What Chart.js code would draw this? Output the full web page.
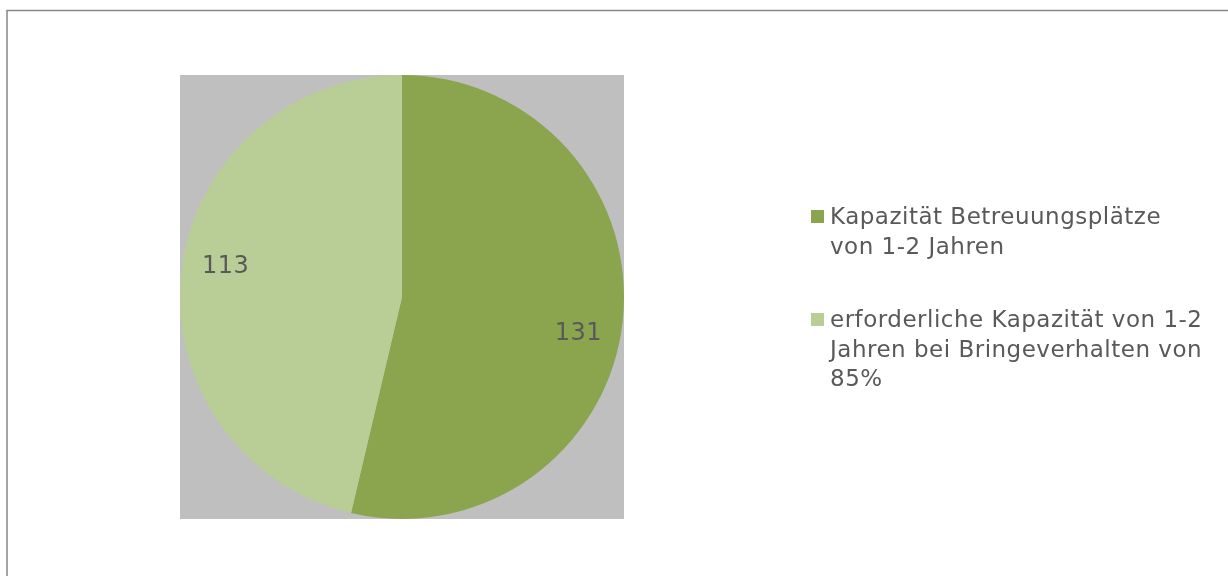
<!DOCTYPE html>
<html>
<head>
<meta charset="utf-8">
<script src="https://cdn.jsdelivr.net/npm/chart.js@4"></script>
<style>
html,body{margin:0;padding:0;background:#fff;}
#wrap{position:relative;width:1228px;height:576px;}
canvas{display:block;}
</style>
</head>
<body>
<div id="wrap"><canvas id="c" width="1228" height="576"></canvas></div>
<script>
const categories = [
  ["Kapazität Betreuungsplätze", "von 1-2 Jahren"],
  ["erforderliche Kapazität von 1-2", "Jahren bei Bringeverhalten von", "85%"]
];
const values = [131, 113];
const colors = ["#8AA54E", "#B9CE96"];

const FONT = '"DejaVu Sans", Verdana, sans-serif';
const TEXT = '#595959';

const decor = {
  id: 'decor',
  beforeDraw(chart) {
    const ctx = chart.ctx, a = chart.chartArea;
    ctx.save();
    ctx.fillStyle = '#fff';
    ctx.fillRect(0, 0, chart.width, chart.height);
    ctx.strokeStyle = '#868686';
    ctx.lineWidth = 1.5;
    ctx.strokeRect(7, 10.5, chart.width + 20, chart.height + 20);
    ctx.fillStyle = '#BFBFBF';
    ctx.fillRect(a.left, a.top, a.right - a.left, a.bottom - a.top);
    ctx.restore();
  },
  afterDatasetsDraw(chart) {
    const ctx = chart.ctx;
    const meta = chart.getDatasetMeta(0);
    ctx.save();
    ctx.font = '24px ' + FONT;
    ctx.fillStyle = TEXT;
    ctx.textAlign = 'center';
    ctx.textBaseline = 'middle';
    ctx.letterSpacing = '0.5px';
    meta.data.forEach((arc, i) => {
      const p = arc.getProps(['x','y','startAngle','endAngle','outerRadius'], true);
      const mid = (p.startAngle + p.endAngle) / 2;
      const r = p.outerRadius * 0.8;
      ctx.fillText(String(values[i]), p.x + Math.cos(mid) * r, p.y + Math.sin(mid) * r + (i === 0 ? 16 : -10));
    });
    // legend
    ctx.font = '23px ' + FONT;
    ctx.textAlign = 'left';
    ctx.textBaseline = 'alphabetic';
    ctx.letterSpacing = '0.5px';
    let y = 224;
    categories.forEach((lines, i) => {
      ctx.fillStyle = colors[i];
      ctx.fillRect(811, y - 14, 13, 13);
      ctx.fillStyle = TEXT;
      lines.forEach((ln, j) => {
        ctx.fillText(ln, 830, y + j * 29.5);
      });
      y += lines.length * 29.5 + 44;
    });
    ctx.restore();
  }
};

new Chart(document.getElementById('c'), {
  type: 'pie',
  data: {
    labels: categories.map(l => l.join(' ')),
    datasets: [{
      data: values,
      backgroundColor: colors,
      borderWidth: 0
    }]
  },
  options: {
    responsive: false,
    animation: false,
    layout: { padding: { left: 180, right: 604, top: 75, bottom: 57 } },
    plugins: { legend: { display: false }, tooltip: { enabled: false } }
  },
  plugins: [decor]
});
</script>
</body>
</html>
